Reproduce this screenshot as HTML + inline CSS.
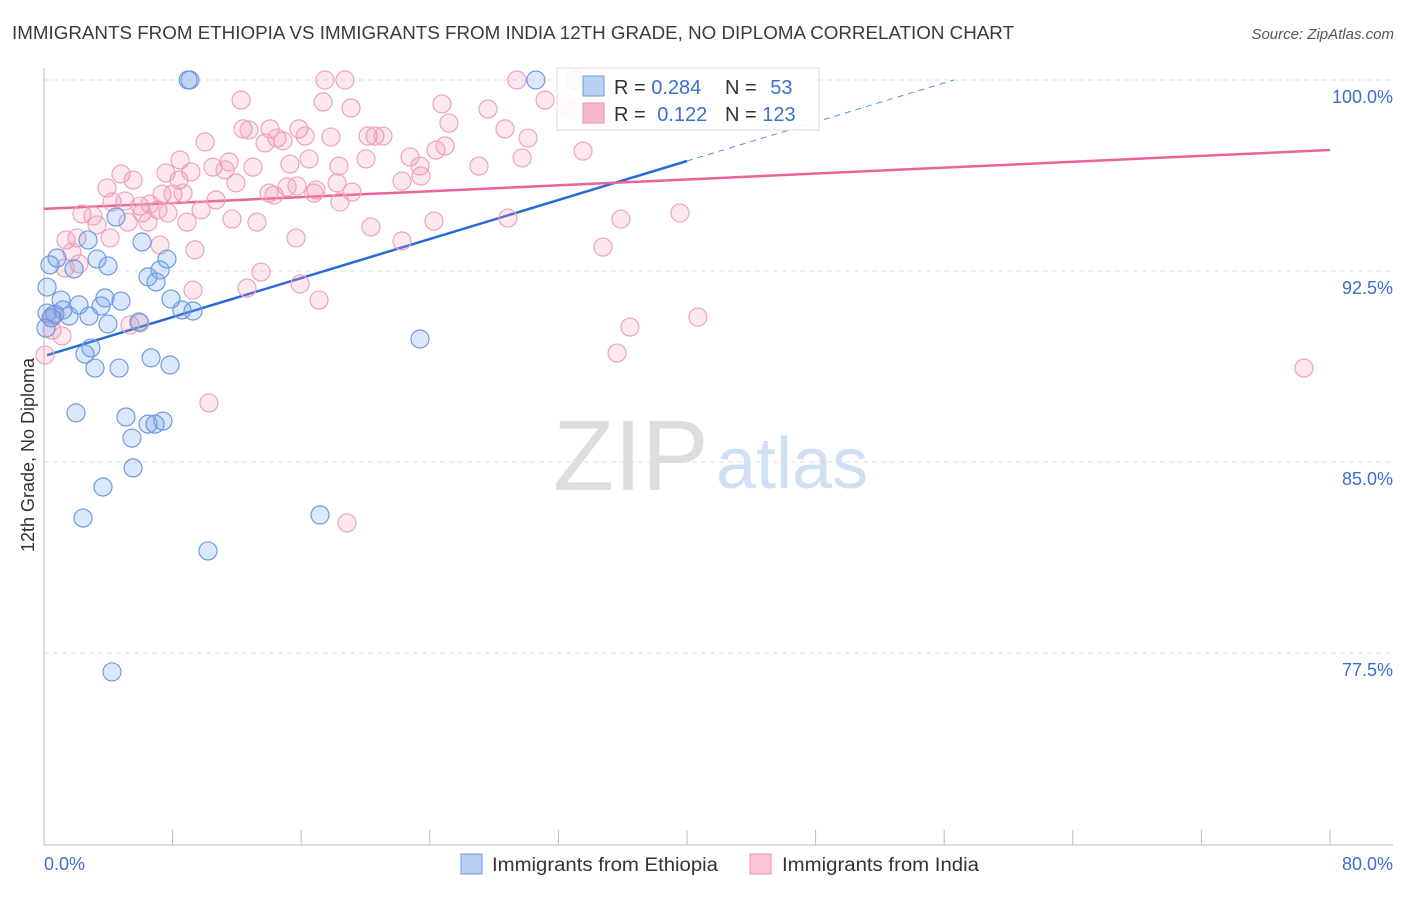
<!DOCTYPE html>
<html><head><meta charset="utf-8"><style>
body{margin:0;background:#fff;font-family:"Liberation Sans",sans-serif}
svg text{font-family:"Liberation Sans",sans-serif}
</style></head><body>
<svg id="chart" width="1406" height="892" xmlns="http://www.w3.org/2000/svg">
<text x="12" y="39" font-size="18" fill="#3a3a3a" textLength="1002" lengthAdjust="spacingAndGlyphs">IMMIGRANTS FROM ETHIOPIA VS IMMIGRANTS FROM INDIA 12TH GRADE, NO DIPLOMA CORRELATION CHART</text>
<text x="1394" y="39" font-size="15" font-style="italic" fill="#555" text-anchor="end">Source: ZipAtlas.com</text>
<g>
<text x="553" y="490" font-size="100" font-family="Liberation Serif" fill="#ddd">ZIP</text>
<text x="716" y="488" font-size="72" fill="#cfe0f4">atlas</text>
</g>
<g id="grid"></g>
<g id="axes"></g>
<text transform="translate(34,455) rotate(-90)" font-size="18" fill="#333" text-anchor="middle">12th Grade, No Diploma</text>
<g id="trends"></g>
<g id="pts"></g>
<g>
<rect x="557" y="68" width="262" height="62" fill="#fff" fill-opacity="0.9" stroke="#ddd"/>
<rect x="583" y="76" width="21" height="20" fill="#b7d0f3" stroke="#6f9ae0"/>
<rect x="583" y="103" width="21" height="20" fill="#f6b9cb" stroke="#eb8fac"/>
<text x="614" y="94" font-size="20" fill="#333">R = <tspan fill="#3b6fd0">0.284</tspan></text>
<text x="725" y="94" font-size="20" fill="#333">N = <tspan fill="#3b6fd0" dx="8">53</tspan></text>
<text x="614" y="121" font-size="20" fill="#333">R = <tspan fill="#3b6fd0" dx="6">0.122</tspan></text>
<text x="725" y="121" font-size="20" fill="#333">N = <tspan fill="#3b6fd0">123</tspan></text>
</g>
<g>
<rect x="461" y="854" width="21" height="20" fill="#b7d0f3" stroke="#6f9ae0"/>
<text x="492" y="871" font-size="19" fill="#333" textLength="226" lengthAdjust="spacingAndGlyphs">Immigrants from Ethiopia</text>
<rect x="750" y="854" width="21" height="20" fill="#f9c6d5" stroke="#eb8fac"/>
<text x="782" y="871" font-size="19" fill="#333" textLength="197" lengthAdjust="spacingAndGlyphs">Immigrants from India</text>
</g>
</svg>
<script>
const yTicks=[100,92.5,85,77.5];
const yTickLabels=["100.0%","92.5%","85.0%","77.5%"];
const xTickVals=[0,8,16,24,32,40,48,56,64,72,80];
const xEndLabels=["0.0%","80.0%"];
const ethX=[8.96,9.08,30.6,33.03,0.19,0.81,1.87,2.74,3.30,3.98,6.10,7.65,7.22,6.47,6.97,7.90,8.58,9.27,1.06,2.18,3.55,3.79,4.79,2.80,1.56,0.68,1.18,3.98,5.91,2.92,2.55,3.17,4.67,6.66,7.84,23.39,1.99,5.10,7.40,6.47,6.91,5.47,5.54,3.67,2.43,17.17,10.20,4.23,4.48,0.37,0.19,0.44,0.12];
const ethY=[100,100,100,100,91.87,93.01,92.58,93.72,92.97,92.70,93.64,92.97,92.54,92.27,92.07,91.40,90.97,90.93,91.36,91.17,91.13,91.44,91.32,90.73,90.73,90.81,90.97,90.42,90.50,89.48,89.24,88.69,88.69,89.09,88.81,89.83,86.93,86.77,86.61,86.49,86.49,85.94,84.77,84.02,82.80,82.92,81.51,76.76,94.62,92.74,90.85,90.66,90.26];
const indX=[17.48,18.72,29.42,31.17,12.26,17.36,19.10,24.76,27.62,25.19,10.02,12.38,12.75,14.06,14.49,15.86,16.24,13.75,14.87,17.85,20.16,20.59,21.09,22.77,23.39,24.39,24.95,28.68,30.11,29.74,33.53,27.06,20.03,18.35,16.49,15.30,13.00,11.51,10.51,11.26,11.94,8.46,9.14,7.59,8.40,7.34,8.02,8.65,4.79,5.54,3.92,4.23,5.04,5.97,6.59,7.09,7.71,5.23,6.10,6.47,8.90,9.77,10.70,11.70,14.00,14.31,15.12,15.74,16.92,16.80,18.23,18.41,19.16,22.27,23.45,24.26,28.86,20.34,13.25,15.68,22.27,9.39,7.22,2.36,3.05,3.30,4.11,2.05,1.37,1.74,1.31,2.18,13.50,12.63,15.93,17.11,9.27,5.35,5.97,34.77,35.89,39.56,36.45,40.68,35.65,10.26,18.85,78.38,0.50,0.50,0.06,0.56,1.12,32.72,34.59,34.09,32.54];
const indY=[100,100,100,99.21,99.21,99.14,98.90,99.06,98.86,98.31,97.57,98.08,98.04,98.08,97.72,98.08,97.80,97.53,97.61,97.76,97.80,97.80,97.80,96.98,96.62,97.25,97.41,98.08,97.72,96.94,97.21,96.62,96.90,96.62,96.90,96.70,96.58,96.78,96.58,96.47,95.96,96.86,96.39,96.35,96.07,95.52,95.52,95.56,96.31,96.07,95.76,95.21,95.25,95.05,95.13,94.90,94.78,94.42,94.78,94.42,94.42,94.90,95.29,94.54,95.56,95.48,95.80,95.84,95.68,95.56,95.96,95.21,95.60,96.03,96.23,94.46,94.58,94.23,94.42,93.80,93.68,93.33,93.52,94.74,94.66,94.31,93.80,93.80,93.72,93.25,92.62,92.78,92.46,91.83,91.99,91.36,91.75,90.38,90.46,93.44,94.54,94.78,90.30,90.69,89.28,87.32,82.61,88.69,90.66,90.18,89.20,90.77,89.95,98.82,99.14,98.51,99.02];
const ethTrend=[89.16,0.1915];
const indTrend=[94.94,0.0289];

const NS="http://www.w3.org/2000/svg";
const X0=44,X1=1330,Y100=80,YPER=25.47;
function sx(v){return X0+(X1-X0)*v/80;}
function sy(v){return Y100+(100-v)*YPER;}
function mk(tag,attrs,parent){const e=document.createElementNS(NS,tag);for(const k in attrs)e.setAttribute(k,attrs[k]);parent.appendChild(e);return e;}
const grid=document.getElementById('grid'),axes=document.getElementById('axes');
yTicks.forEach((t,i)=>{
 const l=mk('line',{x1:X0,x2:1393,y1:sy(t),y2:sy(t),stroke:'#ddd','stroke-dasharray':'5,4'},grid);
 
 
 const tx=mk('text',{x:1393,y:sy(t)+23,'font-size':18,fill:'#3b6fd0','text-anchor':'end'},axes);
 tx.textContent=yTickLabels[i];
 
 
});
const ax=mk('line',{x1:X0,x2:1393,y1:845,y2:845,stroke:'#bbb'},axes);


const ay=mk('line',{x1:X0,x2:X0,y1:68,y2:845,stroke:'#bbb'},axes);


xTickVals.forEach(t=>{
 const l=mk('line',{x1:sx(t),x2:sx(t),y1:830,y2:845,stroke:'#bbb'},axes);
 
 
});
const xl0=mk('text',{x:X0,y:870,'font-size':18,fill:'#3b6fd0'},axes);xl0.textContent=xEndLabels[0];


const xl1=mk('text',{x:1393,y:870,'font-size':18,fill:'#3b6fd0','text-anchor':'end'},axes);xl1.textContent=xEndLabels[1];


const pts=document.getElementById('pts');
indX.forEach((x,i)=>{
 const c=mk('circle',{cx:sx(x),cy:sy(indY[i]),r:9,fill:'rgba(242,140,170,0.2)',stroke:'#eea3bb','stroke-width':1.2},pts);
 
 
});
ethX.forEach((x,i)=>{
 const c=mk('circle',{cx:sx(x),cy:sy(ethY[i]),r:9,fill:'rgba(110,160,235,0.25)',stroke:'#6f9ae0','stroke-width':1.2},pts);
 
 
});
const tr=document.getElementById('trends');
const xe=(100-ethTrend[0])/ethTrend[1];
const b1=mk('line',{x1:sx(0.19),y1:sy(ethTrend[0]+ethTrend[1]*0.19),x2:sx(40),y2:sy(ethTrend[0]+ethTrend[1]*40),stroke:'#2a6ad6','stroke-width':2.5},tr);


const b2=mk('line',{x1:sx(40),y1:sy(ethTrend[0]+ethTrend[1]*40),x2:sx(xe),y2:sy(100),stroke:'#5b8fe0','stroke-width':1,'stroke-dasharray':'6,5'},tr);


const p1=mk('line',{x1:sx(0),y1:sy(indTrend[0]),x2:sx(80),y2:sy(indTrend[0]+indTrend[1]*80),stroke:'#e8659a','stroke-width':2.5},tr);


</script>
</body></html>
